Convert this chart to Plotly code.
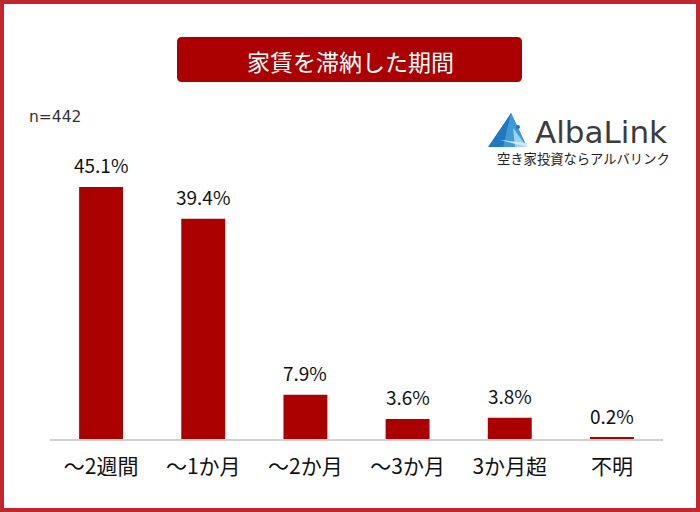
import plotly.graph_objects as go

categories = ["～2週間", "～1か月", "～2か月", "～3か月", "3か月超", "不明"]
values = [45.1, 39.4, 7.9, 3.6, 3.8, 0.2]
value_labels = ["45.1%", "39.4%", "7.9%", "3.6%", "3.8%", "0.2%"]

W, H = 700, 512
FONT = "Noto Sans CJK JP"
RED = "#aa0000"


def px(x):
    return x / W


def py(y):
    return 1 - y / H


fig = go.Figure()
fig.add_trace(go.Bar(
    x=categories, y=values,
    marker=dict(color=RED, line=dict(width=0)),
    hoverinfo="skip",
))

# value labels above bars
for c, v, t in zip(categories, values, value_labels):
    fig.add_annotation(x=c, y=v, text=t, showarrow=False, yshift=22,
                       yanchor="middle",
                       font=dict(family=FONT, size=19, color="#111"))

shapes = []
# outer frame
shapes.append(dict(type="rect", xref="paper", yref="paper",
                   x0=px(2), x1=px(698), y0=py(510), y1=py(2),
                   line=dict(color="#c1272d", width=4)))

# title box with rounded corners
x0, x1, y0, y1, r = px(177), px(522), py(82), py(37), 5
rx, ry = r / W, r / H
path = (f"M {x0+rx},{y0} L {x1-rx},{y0} Q {x1},{y0} {x1},{y0+ry} "
        f"L {x1},{y1-ry} Q {x1},{y1} {x1-rx},{y1} "
        f"L {x0+rx},{y1} Q {x0},{y1} {x0},{y1-ry} "
        f"L {x0},{y0+ry} Q {x0},{y0} {x0+rx},{y0} Z")
shapes.append(dict(type="path", xref="paper", yref="paper", path=path,
                   fillcolor=RED, line=dict(width=0)))


# logo triangle
def tri(pts, color):
    d = "M " + " L ".join(f"{px(a)},{py(b)}" for a, b in pts) + " Z"
    return dict(type="path", xref="paper", yref="paper", path=d,
                fillcolor=color, line=dict(width=0))


shapes.append(tri([(511, 113), (488, 147), (527, 147)], "#1f78c1"))
shapes.append(tri([(511, 113), (503, 147), (527, 147)], "#3f9ad8"))
shapes.append(tri([(513, 128), (515, 147), (527, 147)], "#9fd3f0"))
shapes.append(tri([(500, 140), (527, 147), (527, 143)], "#cfe9f8"))
shapes.append(dict(type="circle", xref="paper", yref="paper",
                   x0=px(516), x1=px(520), y0=py(129), y1=py(125),
                   fillcolor="#1f78c1", line=dict(width=0)))

fig.update_layout(shapes=shapes)

fig.add_annotation(xref="paper", yref="paper", x=px(350), y=py(61),
                   xanchor="center", yanchor="middle",
                   text="家賃を滞納した期間", showarrow=False,
                   font=dict(family=FONT, size=23, color="white"))
fig.add_annotation(xref="paper", yref="paper", x=px(27), y=py(117),
                   xanchor="left", yanchor="middle", text="n=442",
                   showarrow=False,
                   font=dict(family="DejaVu Sans", size=15.5, color="#333"))
fig.add_annotation(xref="paper", yref="paper", x=px(533), y=py(132),
                   xanchor="left", yanchor="middle", text="AlbaLink",
                   showarrow=False,
                   font=dict(family="DejaVu Sans", size=31, color="#3c3c3c"))
fig.add_annotation(xref="paper", yref="paper", x=px(583), y=py(158),
                   xanchor="center", yanchor="middle",
                   text="空き家投資ならアルバリンク", showarrow=False,
                   font=dict(family=FONT, size=13.3, color="#222"))

fig.update_layout(
    width=W, height=H,
    margin=dict(l=0, r=0, t=0, b=0),
    paper_bgcolor="white", plot_bgcolor="white",
    showlegend=False,
    bargap=0.57,
    xaxis=dict(domain=[px(50), px(663)], showline=True, linecolor="#d0d0d0",
               linewidth=2, ticks="", ticklabelstandoff=8,
               tickfont=dict(family=FONT, size=21, color="#111"),
               fixedrange=True),
    yaxis=dict(domain=[py(439), py(150)], range=[0, 51.7], visible=False,
               fixedrange=True),
)

fig.write_html("out.html", config={"displayModeBar": False},
               post_script="document.body.style.margin='0';")
